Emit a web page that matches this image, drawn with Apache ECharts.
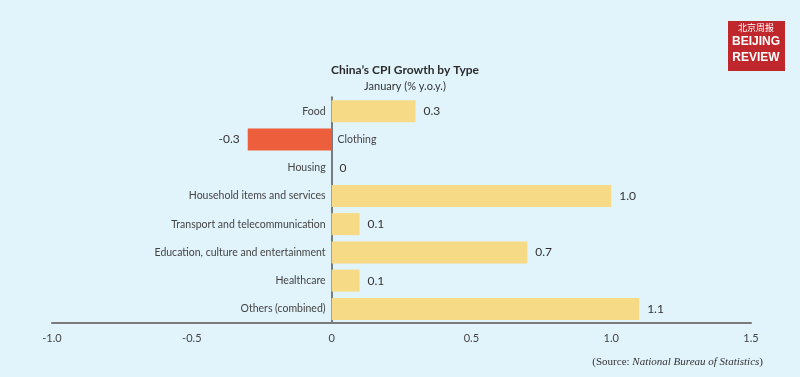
<!DOCTYPE html>
<html>
<head>
<meta charset="utf-8">
<script src="https://cdn.jsdelivr.net/npm/echarts@6/dist/echarts.min.js"></script>
<style>
html,body{margin:0;padding:0;background:#e1f3fb;}
#main{width:800px;height:377px;}
</style>
</head>
<body>
<div id="main"></div>
<script>
// data
var categories = ['Food', 'Clothing', 'Housing', 'Household items and services',
  'Transport and telecommunication', 'Education, culture and entertainment',
  'Healthcare', 'Others (combined)'];
var growth = [0.3, -0.3, 0, 1.0, 0.1, 0.7, 0.1, 1.1];
var tickLabels = ['-1.0', '-0.5', '0', '0.5', '1.0', '1.5'];

window.onload = function () {
  var myChart = echarts.init(document.getElementById('main'));

  var valueData = growth.map(function (v) {
    return {
      value: v,
      itemStyle: { color: v < 0 ? '#ec5e3c' : '#f6da86' },
      label: { position: v < 0 ? 'left' : 'right' }
    };
  });
  // zero-length bars only carry the category names
  var nameData = growth.map(function (v) {
    return { value: 0, label: { position: v < 0 ? 'right' : 'left' } };
  });

  var option = {
    backgroundColor: '#e1f3fb',
    textStyle: { fontFamily: 'Lato' },
    title: {
      text: 'China\u2019s CPI Growth by Type',
      subtext: 'January (% y.o.y.)',
      left: 400, textAlign: 'center', top: 59, itemGap: 5,
      textStyle: { fontSize: 12, fontWeight: 'bold', color: '#2b2b2b', fontFamily: 'Lato' },
      subtextStyle: { fontSize: 11, color: '#333', fontFamily: 'Lato' }
    },
    grid: { left: 52, right: 49, top: 97, bottom: 54 },
    xAxis: {
      type: 'value', min: -1, max: 1.5, interval: 0.5,
      axisLine: { show: true, lineStyle: { color: '#7a7a7a', width: 2 } },
      axisTick: { show: false },
      splitLine: { show: false },
      axisLabel: {
        margin: 10, fontSize: 11, color: '#444', fontFamily: 'Lato',
        formatter: function (v) {
          var i = Math.round((v + 1) / 0.5);
          return tickLabels[i];
        }
      }
    },
    yAxis: {
      type: 'category', inverse: true, data: categories,
      axisLine: { show: true, onZero: true, lineStyle: { color: '#555', width: 1.5 } },
      axisTick: { show: false },
      axisLabel: { show: false }
    },
    series: [{
      type: 'bar', data: valueData, barWidth: 22, z: 3,
      label: {
        show: true, distance: 8, fontSize: 12, color: '#333', fontFamily: 'Lato',
        formatter: function (p) { return p.value === 0 ? '0' : p.value.toFixed(1); }
      }
    }, {
      type: 'bar', data: nameData, barWidth: 22, barGap: '-100%', z: 4,
      itemStyle: { color: 'transparent' },
      label: {
        show: true, distance: 6, fontSize: 10.5, color: '#444', fontFamily: 'Lato',
        formatter: function (p) { return p.name; }
      }
    }],
    graphic: [
      { type: 'rect', left: 728, top: 21, shape: { width: 57, height: 50 }, style: { fill: '#c0272d' } },
      { type: 'text', x: 756, y: 23, style: { text: '北京周报', align: 'center', fontSize: 9, fill: '#fff', fontFamily: 'Noto Sans CJK SC' } },
      { type: 'text', x: 756, y: 36, style: { text: 'BEIJING', align: 'center', fontSize: 12, fontWeight: 'bold', fill: '#fff', fontFamily: 'Liberation Sans' } },
      { type: 'text', x: 756, y: 52, style: { text: 'REVIEW', align: 'center', fontSize: 12, fontWeight: 'bold', fill: '#fff', fontFamily: 'Liberation Sans' } },
      {
        type: 'text', right: 37, top: 357,
        style: {
          rich: {
            a: { fontFamily: 'Liberation Serif', fontSize: 11, fill: '#333' },
            b: { fontFamily: 'Liberation Serif', fontSize: 11, fontStyle: 'italic', fill: '#333' }
          },
          text: '{a|(Source: }{b|National Bureau of Statistics}{a|)}'
        }
      }
    ]
  };
  myChart.setOption(option);
};
</script>
</body>
</html>
